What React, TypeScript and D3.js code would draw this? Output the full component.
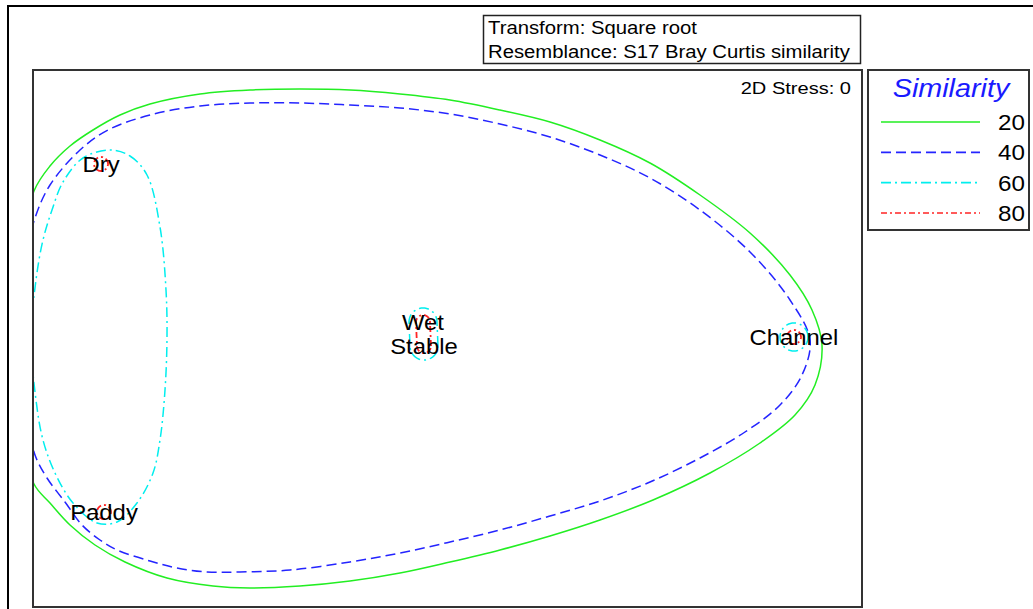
import React from "react";
import * as d3 from "d3";

// ---- Data (MDS configuration, arbitrary units) ----
const sampleNames = ["Dry", "Wet", "Stable", "Channel", "Paddy"];
const sampleX = [-3.47, -0.25, -0.24, 3.46, -3.44];
const sampleY = [1.74, 0.16, -0.08, 0.01, -1.74];

const similarityLevels = [20, 40, 60, 80];
const levelColors = ["#22ee22", "#2424ff", "#00eeee", "#ff2424"];
const levelDashes = ["", "10 5", "10 4 2 4", "6 3 2 3"];

// contour at 20% similarity (traced)
const contour20: [number, number][] = [
  [-4.36, 0], [-4.26, 0.88], [-4.14, 1.47], [-3.98, 1.72], [-3.78, 1.92], [-3.55, 2.08],
  [-3.28, 2.23], [-2.98, 2.34], [-2.48, 2.44], [-1.98, 2.48], [-1.48, 2.49], [-0.98, 2.48],
  [-0.48, 2.44], [0.02, 2.38], [0.52, 2.28], [1.02, 2.16], [1.52, 1.98], [2.02, 1.75],
  [2.52, 1.43], [3.02, 1.05], [3.42, 0.63], [3.64, 0.28], [3.74, -0.07], [3.67, -0.47],
  [3.47, -0.77], [3.12, -1.05], [2.62, -1.35], [2.05, -1.62], [1.52, -1.82], [1.02, -1.98],
  [0.52, -2.12], [0.02, -2.24], [-0.48, -2.35], [-0.98, -2.43], [-1.48, -2.48], [-1.98, -2.5],
  [-2.35, -2.48], [-2.81, -2.4], [-3.23, -2.24], [-3.53, -2.07], [-3.78, -1.87], [-3.98, -1.65],
  [-4.14, -1.46], [-4.26, -0.92],
];

// contour at 40% similarity
const contour40: [number, number][] = [
  [-4.34, 0], [-4.23, 0.78], [-4.13, 1.2], [-3.98, 1.53], [-3.68, 1.88], [-3.4, 2.08],
  [-2.98, 2.23], [-2.48, 2.32], [-1.98, 2.35], [-1.48, 2.35], [-0.98, 2.33], [-0.48, 2.3],
  [0.02, 2.24], [0.52, 2.14], [1.02, 2.01], [1.52, 1.83], [2.02, 1.6], [2.52, 1.28],
  [3.02, 0.86], [3.42, 0.38], [3.62, -0.02], [3.54, -0.37], [3.32, -0.67], [2.97, -0.94],
  [2.52, -1.2], [2.02, -1.44], [1.52, -1.63], [1.02, -1.78], [0.52, -1.92], [0.02, -2.04],
  [-0.48, -2.15], [-0.98, -2.24], [-1.58, -2.32], [-2.08, -2.34], [-2.41, -2.34], [-2.71, -2.3],
  [-2.98, -2.23], [-3.31, -2.12], [-3.48, -2.02], [-3.66, -1.87], [-3.83, -1.64], [-4.01, -1.4],
  [-4.13, -1.17], [-4.23, -0.72],
];

// contour at 60% similarity around Dry + Paddy
const contour60DryPaddy: [number, number][] = [
  [-3.38, 1.88], [-3.18, 1.82], [-3.01, 1.63], [-2.88, 1.11], [-2.82, 0.48], [-2.81, 0],
  [-2.83, -0.52], [-2.88, -1.02], [-2.95, -1.35], [-3.11, -1.65], [-3.31, -1.84], [-3.51, -1.85],
  [-3.75, -1.65], [-3.93, -1.35], [-4.05, -1.02], [-4.12, -0.62], [-4.17, 0], [-4.12, 0.58],
  [-4.05, 0.98], [-3.96, 1.28], [-3.85, 1.56], [-3.65, 1.8],
];

// small contour groups (sample indices) and their radii
const groups60 = [[1, 2], [3]];
const radius60 = 0.14;
const groups80 = [[0], [4], [1, 2], [3]];
const radius80 = 0.07;

const transformText = "Transform: Square root";
const resemblanceText = "Resemblance: S17 Bray Curtis similarity";
const stressText = "2D Stress: 0";
const legendTitle = "Similarity";

// ---- Layout ----
const W = 1033;
const H = 609;
const plot = { left: 33, right: 862, top: 70, bottom: 607 };
const xDomain: [number, number] = [-4.15, 4.14];
const yDomain: [number, number] = [-2.69, 2.68];
const SX = 1.18; // horizontal text stretch of the original rendering
const SX_LABEL = 1.06;
const FONT = "'Liberation Sans', Arial, sans-serif";

function SText(props: {
  x: number; y: number; size: number; anchor?: string; fill?: string; italic?: boolean; sx?: number;
  children: React.ReactNode;
}) {
  const { x, y, size, anchor = "start", fill = "#000", italic = false, sx = SX, children } = props;
  return (
    <text
      transform={`translate(${x},${y}) scale(${sx},1)`}
      fontFamily={FONT}
      fontSize={size}
      textAnchor={anchor}
      fill={fill}
      fontStyle={italic ? "italic" : "normal"}
    >
      {children}
    </text>
  );
}

export default function App() {
  const x = d3.scaleLinear().domain(xDomain).range([plot.left, plot.right]);
  const y = d3.scaleLinear().domain(yDomain).range([plot.bottom, plot.top]);

  const smooth = d3
    .line<[number, number]>()
    .x((d) => x(d[0]))
    .y((d) => y(d[1]))
    .curve(d3.curveCatmullRomClosed.alpha(0.5));

  const linear = d3
    .line<[number, number]>()
    .x((d) => d[0])
    .y((d) => d[1])
    .curve(d3.curveLinearClosed);

  const groupPath = (idx: number[], r: number) => {
    const pts: [number, number][] = [];
    const rx = x(r) - x(0);
    idx.forEach((i) => {
      d3.range(0, 48).forEach((k) => {
        const a = (k / 48) * Math.PI * 2;
        pts.push([x(sampleX[i]) + rx * Math.cos(a), y(sampleY[i]) + rx * Math.sin(a)]);
      });
    });
    const hull = d3.polygonHull(pts) || pts;
    return linear(hull) || "";
  };

  const contourStyle = (li: number) => ({
    fill: "none",
    stroke: levelColors[li],
    strokeWidth: li === 3 ? 1.8 : 1.5,
    strokeDasharray: levelDashes[li] || undefined,
  });

  const legendY = d3
    .scalePoint<number>()
    .domain(similarityLevels)
    .range([122, 213]);

  return (
    <svg width={W} height={H} style={{ position: "absolute", left: 0, top: 0, background: "#fff" }}>
      <defs>
        <clipPath id="plotClip">
          <rect x={plot.left} y={plot.top} width={plot.right - plot.left} height={plot.bottom - plot.top} />
        </clipPath>
      </defs>
      <rect x={0} y={0} width={W} height={H} fill="#fff" />

      {/* outer frame */}
      <line x1={7} x2={W} y1={6} y2={6} stroke="#000" strokeWidth={2} />
      <line x1={8} x2={8} y1={5} y2={H} stroke="#000" strokeWidth={2} />

      {/* header box */}
      <rect x={483.5} y={15.5} width={377} height={48} fill="#fff" stroke="#222" strokeWidth={1.5} />
      <SText x={488} y={34} size={17.5} sx={1.16}>{transformText}</SText>
      <SText x={488} y={57.5} size={17.5} sx={1.16}>{resemblanceText}</SText>

      {/* contours */}
      <g clipPath="url(#plotClip)">
        <path d={smooth(contour20) || ""} style={contourStyle(0)} />
        <path d={smooth(contour40) || ""} style={contourStyle(1)} />
        <path d={smooth(contour60DryPaddy) || ""} style={contourStyle(2)} />
        {groups60.map((g, i) => (
          <path key={"c60" + i} d={groupPath(g, radius60)} style={contourStyle(2)} />
        ))}
        {groups80.map((g, i) => (
          <path key={"c80" + i} d={groupPath(g, radius80)} style={contourStyle(3)} />
        ))}
      </g>

      {/* sample labels */}
      {sampleNames.map((n, i) => (
        <SText key={n} x={x(sampleX[i])} y={y(sampleY[i]) + 8} size={22} anchor="middle" fill="#000" sx={SX_LABEL * 22.5 / 22}>
          {n}
        </SText>
      ))}

      {/* plot frame */}
      <rect
        x={plot.left}
        y={plot.top}
        width={plot.right - plot.left}
        height={plot.bottom - plot.top}
        fill="none"
        stroke="#333"
        strokeWidth={2}
      />
      <SText x={851} y={94} size={17} anchor="end">{stressText}</SText>

      {/* legend */}
      <rect x={868} y={70} width={161} height={160} fill="#fff" stroke="#333" strokeWidth={2} />
      <SText x={951} y={97} size={25} anchor="middle" fill="#1a1aff" italic sx={1.15}>
        {legendTitle}
      </SText>
      {similarityLevels.map((lv, i) => (
        <g key={lv}>
          <line
            x1={881}
            x2={980}
            y1={legendY(lv)}
            y2={legendY(lv)}
            stroke={levelColors[i]}
            strokeWidth={1.6}
            strokeDasharray={levelDashes[i] || undefined}
          />
          <SText x={1025} y={(legendY(lv) as number) + 8} size={22} anchor="end" sx={1.1}>
            {lv}
          </SText>
        </g>
      ))}
    </svg>
  );
}
